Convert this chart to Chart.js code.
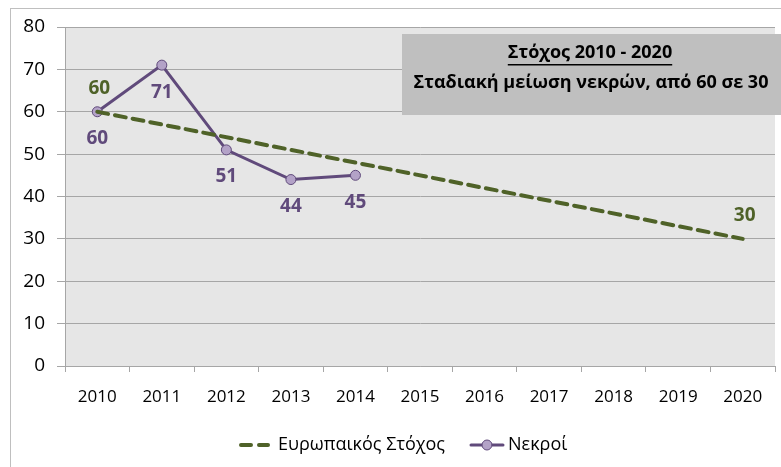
<!DOCTYPE html>
<html>
<head>
<meta charset="utf-8">
<script src="https://cdn.jsdelivr.net/npm/chart.js@4"></script>
<style>
  body { margin: 0; background: #fff; }
  #wrap { width: 781px; height: 467px; position: relative; }
</style>
</head>
<body>
<div id="wrap"><canvas id="chart"></canvas></div>
<script>
// Data
const years = ['2010', '2011', '2012', '2013', '2014', '2015', '2016', '2017', '2018', '2019', '2020'];
const targetValues = [60, null, null, null, null, null, null, null, null, null, 30];
const deathValues = [60, 71, 51, 44, 45];
const targetName = 'Ευρωπαικός Στόχος';
const deathName = 'Νεκροί';
const boxTitle = 'Στόχος 2010 - 2020';
const boxText = 'Σταδιακή μείωση νεκρών, από 60 σε 30';

const GREEN = '#4f6228';
const PURPLE = '#604a7b';
const MARKER = '#b3a2c7';
const FONT = '"Open Sans", "Noto Sans", sans-serif';

// Frame + plot background
const backgroundPlugin = {
  id: 'background',
  beforeDraw(chart) {
    const { ctx, chartArea: a } = chart;
    ctx.save();
    ctx.strokeStyle = '#bfbfbf';
    ctx.lineWidth = 1;
    ctx.strokeRect(10.5, 8.5, 900, 600);
    ctx.fillStyle = '#e6e6e6';
    ctx.fillRect(a.left, a.top, a.right - a.left, a.bottom - a.top);
    ctx.restore();
  }
};

// Value labels next to the points
const valueLabelPlugin = {
  id: 'valueLabels',
  afterDatasetsDraw(chart) {
    const { ctx } = chart;
    ctx.save();
    ctx.font = 'bold 19px ' + FONT;
    ctx.textAlign = 'center';
    ctx.textBaseline = 'middle';
    chart.data.datasets.forEach((ds, i) => {
      const meta = chart.getDatasetMeta(i);
      meta.data.forEach((pt, j) => {
        const v = ds.data[j];
        if (v === null || v === undefined) return;
        ctx.fillStyle = ds.labelColor;
        ctx.fillText(String(v), pt.x + (ds.labelDx || 0), pt.y + ds.labelDy);
      });
    });
    ctx.restore();
  }
};

// Gray annotation box + custom legend
const overlayPlugin = {
  id: 'overlay',
  afterDraw(chart) {
    const { ctx } = chart;
    ctx.save();
    // text box
    ctx.fillStyle = '#bfbfbf';
    ctx.fillRect(402, 34, 379, 81);
    ctx.fillStyle = '#000';
    ctx.textAlign = 'center';
    ctx.textBaseline = 'middle';
    ctx.font = 'bold 18px ' + FONT;
    ctx.fillText(boxTitle, 590, 53);
    const w = ctx.measureText(boxTitle).width;
    ctx.fillRect(590 - w / 2, 64, w, 1.5);
    ctx.fillText(boxText, 591, 83);

    // legend
    const ly = 445;
    ctx.lineCap = 'round';
    ctx.strokeStyle = GREEN;
    ctx.lineWidth = 4;
    ctx.setLineDash([10, 8]);
    ctx.beginPath();
    ctx.moveTo(241, ly);
    ctx.lineTo(268, ly);
    ctx.stroke();
    ctx.setLineDash([]);
    ctx.fillStyle = '#000';
    ctx.textAlign = 'left';
    ctx.font = '18px ' + FONT;
    ctx.fillText(targetName, 278, ly);

    ctx.strokeStyle = PURPLE;
    ctx.lineWidth = 3;
    ctx.beginPath();
    ctx.moveTo(471, ly);
    ctx.lineTo(503, ly);
    ctx.stroke();
    ctx.beginPath();
    ctx.arc(487, ly, 5, 0, Math.PI * 2);
    ctx.fillStyle = MARKER;
    ctx.fill();
    ctx.lineWidth = 1;
    ctx.stroke();
    ctx.fillStyle = '#000';
    ctx.fillText(deathName, 508, ly);
    ctx.restore();
  }
};

new Chart(document.getElementById('chart'), {
  type: 'line',
  data: {
    labels: years,
    datasets: [
      {
        label: targetName,
        data: targetValues,
        borderColor: GREEN,
        borderWidth: 4,
        borderDash: [11, 7],
        borderCapStyle: 'round',
        spanGaps: true,
        pointRadius: 0,
        tension: 0,
        labelColor: GREEN,
        labelDy: -23,
        labelDx: 2
      },
      {
        label: deathName,
        data: deathValues,
        borderColor: PURPLE,
        borderWidth: 3,
        pointRadius: 5,
        pointBackgroundColor: MARKER,
        pointBorderColor: PURPLE,
        pointBorderWidth: 1,
        tension: 0,
        labelColor: PURPLE,
        labelDy: 27
      }
    ]
  },
  options: {
    responsive: true,
    maintainAspectRatio: false,
    animation: false,
    layout: { padding: { left: 0, top: 27, right: -6, bottom: 61 } },
    plugins: {
      legend: { display: false },
      tooltip: { enabled: false }
    },
    scales: {
      x: {
        offset: true,
        grid: { display: true, drawOnChartArea: false, color: '#a6a6a6', tickLength: 6, offset: true },
        border: { color: '#a6a6a6' },
        ticks: { color: '#000', font: { family: FONT, size: 17 }, padding: 15, maxRotation: 0 },
        afterFit(scale) {
          scale.height = 40;
          scale.paddingLeft = 0;
          scale.paddingRight = 0;
        }
      },
      y: {
        min: 0,
        max: 80,
        ticks: { stepSize: 10, color: '#000', font: { family: FONT, size: 19 }, padding: 12 },
        grid: { color: '#a6a6a6', tickLength: 8 },
        border: { color: '#a6a6a6' },
        afterFit(scale) { scale.width = 65; }
      }
    }
  },
  plugins: [backgroundPlugin, valueLabelPlugin, overlayPlugin]
});
</script>
</body>
</html>
